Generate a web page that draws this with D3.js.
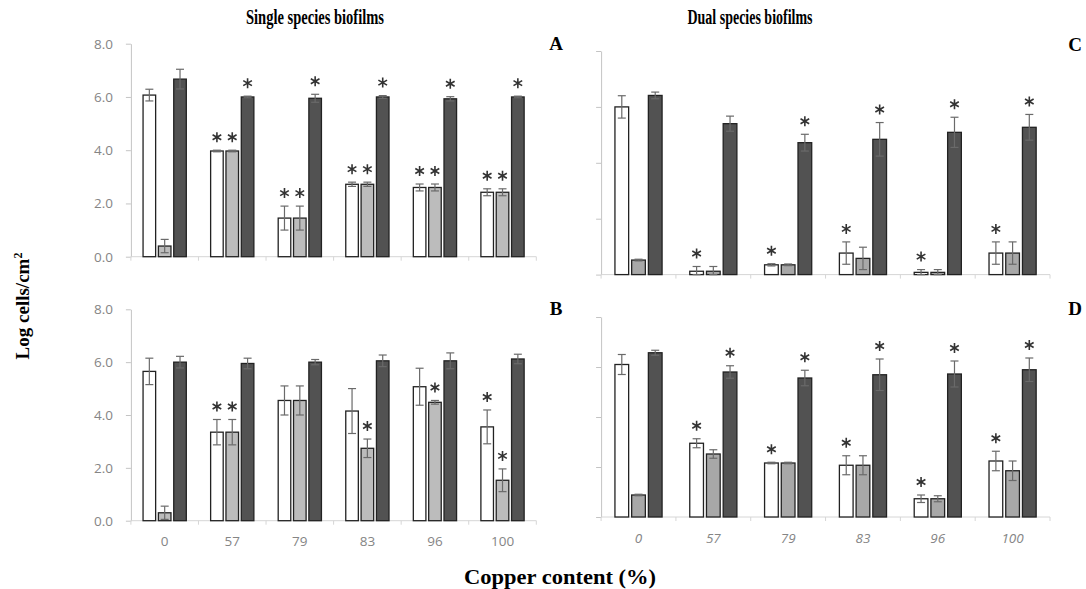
<!DOCTYPE html>
<html>
<head>
<meta charset="utf-8">
<script src="https://cdn.jsdelivr.net/npm/d3@7"></script>
<style>
  body { margin: 0; background: #fff; }
</style>
</head>
<body>
<div id="container"></div>
<script>
var categories = ["0", "57", "79", "83", "96", "100"]
var yTicks = [0, 2, 4, 6, 8]

// A - single species, top
var aWhite = [6.07, 3.97, 1.45, 2.72, 2.6, 2.42]
var aWhiteErr = [0.22, 0.03, 0.45, 0.08, 0.13, 0.13]
var aGrey = [0.4, 3.97, 1.45, 2.72, 2.6, 2.42]
var aGreyErr = [0.25, 0.03, 0.45, 0.08, 0.13, 0.13]
var aDark = [6.67, 6.0, 5.95, 6.0, 5.93, 6.0]
var aDarkErr = [0.37, 0.03, 0.15, 0.05, 0.08, 0.03]
var aWhiteSig = [0, 1, 1, 1, 1, 1]
var aGreySig = [0, 1, 1, 1, 1, 1]
var aDarkSig = [0, 1, 1, 1, 1, 1]

// B - single species, bottom
var bWhite = [5.65, 3.35, 4.55, 4.15, 5.07, 3.55]
var bWhiteErr = [0.5, 0.48, 0.55, 0.85, 0.7, 0.64]
var bGrey = [0.3, 3.35, 4.55, 2.74, 4.48, 1.53]
var bGreyErr = [0.25, 0.48, 0.55, 0.35, 0.07, 0.43]
var bDark = [6.0, 5.95, 6.0, 6.05, 6.05, 6.12]
var bDarkErr = [0.22, 0.2, 0.1, 0.22, 0.3, 0.18]
var bWhiteSig = [0, 1, 0, 0, 0, 1]
var bGreySig = [0, 1, 0, 1, 1, 1]
var bDarkSig = [0, 0, 0, 0, 0, 0]

// C - dual species, top
var cWhite = [6.0, 0.12, 0.35, 0.77, 0.08, 0.77]
var cWhiteErr = [0.4, 0.17, 0.04, 0.4, 0.1, 0.4]
var cGrey = [0.52, 0.12, 0.35, 0.58, 0.08, 0.77]
var cGreyErr = [0.03, 0.17, 0.03, 0.4, 0.1, 0.4]
var cDark = [6.41, 5.4, 4.72, 4.84, 5.09, 5.27]
var cDarkErr = [0.12, 0.27, 0.3, 0.6, 0.54, 0.46]
var cWhiteSig = [0, 1, 1, 1, 1, 1]
var cGreySig = [0, 0, 0, 0, 0, 0]
var cDarkSig = [0, 0, 1, 1, 1, 1]

// D - dual species, bottom
var dWhite = [6.1, 2.95, 2.16, 2.07, 0.73, 2.24]
var dWhiteErr = [0.4, 0.18, 0.03, 0.38, 0.15, 0.39]
var dGrey = [0.88, 2.52, 2.16, 2.07, 0.73, 1.85]
var dGreyErr = [0.03, 0.17, 0.03, 0.38, 0.12, 0.39]
var dDark = [6.57, 5.8, 5.56, 5.69, 5.72, 5.89]
var dDarkErr = [0.1, 0.25, 0.31, 0.63, 0.52, 0.47]
var dWhiteSig = [0, 1, 1, 1, 1, 1]
var dGreySig = [0, 0, 0, 0, 0, 0]
var dDarkSig = [0, 1, 1, 1, 1, 1]

var serifFont = "'Liberation Serif', 'DejaVu Serif', serif"
var tickFont = "'Open Sans', 'Liberation Sans', sans-serif"

// six armed asterisk used for significance marks
var asterisk = {
  draw: function(ctx, size) {
    var r = Math.sqrt(size) / 2
    for (var k = 0; k < 3; k++) {
      var a = Math.PI / 2 + k * Math.PI / 3
      ctx.moveTo(r * Math.cos(a), r * Math.sin(a))
      ctx.lineTo(-r * Math.cos(a), -r * Math.sin(a))
    }
  }
}

var svg = d3.select("#container").append("svg")
    .attr("width", 1086)
    .attr("height", 589)

function panel(o) {
  var x = d3.scaleBand().domain(categories)
      .range([o.left, o.right])
      .paddingInner(o.pad)
      .paddingOuter(o.pad / 2)
  var sub = d3.scaleBand().domain([0, 1, 2])
      .range([0, x.bandwidth()])
      .paddingInner(0.18)
  var y = d3.scaleLinear().domain([0, 8]).range([o.bottom, o.top])

  var g = svg.append("g")

  // y axis
  var ya = g.append("g")
      .attr("transform", "translate(" + o.left + ",0)")
      .call(d3.axisLeft(y).tickValues(yTicks).tickSize(5).tickSizeOuter(0)
        .tickPadding(13).tickFormat(o.yLabels ? d3.format(".1f") : ""))
  ya.select(".domain").attr("stroke", "#c4c4c4")
  ya.selectAll(".tick line").attr("stroke", "#c4c4c4")
  ya.selectAll(".tick text")
      .attr("fill", "#858585")
      .attr("font-family", tickFont)
      .attr("font-size", "13.5px")

  // x axis line + boundary ticks
  g.append("line")
      .attr("x1", o.left).attr("x2", o.right)
      .attr("y1", y(0)).attr("y2", y(0))
      .attr("stroke", "#d6d6d6")
  g.selectAll(".bound")
    .data(d3.range(categories.length + 1))
    .enter().append("line")
      .attr("x1", function(i) { return o.left + i * x.step() })
      .attr("x2", function(i) { return o.left + i * x.step() })
      .attr("y1", y(0)).attr("y2", y(0) + 4)
      .attr("stroke", "#d6d6d6")

  if (o.xLabels) {
    var xa = g.append("g")
        .attr("transform", "translate(0," + y(0) + ")")
        .call(d3.axisBottom(x).tickSize(0).tickPadding(16))
    xa.select(".domain").remove()
    xa.selectAll(".tick text")
        .attr("fill", "#858585")
        .attr("font-family", tickFont)
        .attr("font-size", "13.5px")
        .attr("font-style", o.italic ? "italic" : "normal")
  }

  o.series.forEach(function(s, i) {
    var rows = categories.map(function(c, j) {
      return {c: c, v: s.values[j], e: s.errors[j], sig: s.sig[j]}
    })
    var sg = g.append("g")

    sg.selectAll("rect").data(rows).enter().append("rect")
        .attr("x", function(d) { return x(d.c) + sub(i) })
        .attr("y", function(d) { return y(d.v) })
        .attr("width", sub.bandwidth())
        .attr("height", function(d) { return y(0) - y(d.v) })
        .attr("fill", s.fill)
        .attr("stroke", "#222")
        .attr("stroke-width", 1.3)

    var cx = function(d) { return x(d.c) + sub(i) + sub.bandwidth() / 2 }
    var lo = function(d) { return y(Math.max(d.v - d.e, 0)) }
    var hi = function(d) { return y(d.v + d.e) }

    var eg = sg.selectAll(".err").data(rows).enter().append("g")
        .attr("stroke", "#6a6a6a")
        .attr("stroke-width", 1.2)
    eg.append("line")
        .attr("x1", cx).attr("x2", cx)
        .attr("y1", lo).attr("y2", hi)
    eg.append("line")
        .attr("x1", function(d) { return cx(d) - 4 })
        .attr("x2", function(d) { return cx(d) + 4 })
        .attr("y1", hi).attr("y2", hi)
    eg.append("line")
        .attr("x1", function(d) { return cx(d) - 4 })
        .attr("x2", function(d) { return cx(d) + 4 })
        .attr("y1", lo).attr("y2", lo)

    sg.selectAll(".star").data(rows.filter(function(d) { return d.sig }))
      .enter().append("path")
        .attr("transform", function(d) { return "translate(" + cx(d) + "," + (hi(d) - 13) + ")" })
        .attr("d", d3.symbol().type(asterisk).size(100))
        .attr("fill", "none")
        .attr("stroke", "#333")
        .attr("stroke-width", 1.6)
  })

  g.append("text")
      .attr("x", o.letterX).attr("y", o.letterY)
      .attr("text-anchor", "middle")
      .attr("font-family", serifFont)
      .attr("font-weight", "bold")
      .attr("font-size", "19px")
      .text(o.letter)
}

var leftFills = ["#ffffff", "#bcbcbc", "#525252"]
var rightFills = ["#ffffff", "#a8a8a8", "#525252"]

function makeSeries(fills, w, we, ws, g, ge, gs, k, ke, ks) {
  return [
    {values: w, errors: we, sig: ws, fill: fills[0]},
    {values: g, errors: ge, sig: gs, fill: fills[1]},
    {values: k, errors: ke, sig: ks, fill: fills[2]}
  ]
}

panel({left: 130.9, right: 536.3, pad: 0.36, top: 43.7, bottom: 256.7,
  yLabels: true, xLabels: false, letter: "A", letterX: 556, letterY: 50,
  series: makeSeries(leftFills, aWhite, aWhiteErr, aWhiteSig, aGrey, aGreyErr, aGreySig, aDark, aDarkErr, aDarkSig)})

panel({left: 130.9, right: 536.3, pad: 0.36, top: 309.3, bottom: 520.7,
  yLabels: true, xLabels: true, italic: false, letter: "B", letterX: 556, letterY: 315,
  series: makeSeries(leftFills, bWhite, bWhiteErr, bWhiteSig, bGrey, bGreyErr, bGreySig, bDark, bDarkErr, bDarkSig)})

panel({left: 601.1, right: 1050, pad: 0.37, top: 51, bottom: 274.6,
  yLabels: false, xLabels: false, letter: "C", letterX: 1075, letterY: 51,
  series: makeSeries(rightFills, cWhite, cWhiteErr, cWhiteSig, cGrey, cGreyErr, cGreySig, cDark, cDarkErr, cDarkSig)})

panel({left: 601.1, right: 1050, pad: 0.37, top: 317, bottom: 517,
  yLabels: false, xLabels: true, italic: true, letter: "D", letterX: 1075, letterY: 315,
  series: makeSeries(rightFills, dWhite, dWhiteErr, dWhiteSig, dGrey, dGreyErr, dGreySig, dDark, dDarkErr, dDarkSig)})

// titles
function label(txt, x, y, len) {
  svg.append("text")
      .attr("x", x).attr("y", y)
      .attr("text-anchor", "middle")
      .attr("font-family", serifFont)
      .attr("font-weight", "bold")
      .attr("font-size", "20px")
      .attr("textLength", len)
      .attr("lengthAdjust", "spacingAndGlyphs")
      .text(txt)
}
label("Single species biofilms", 315, 24, 138)
label("Dual species biofilms", 750, 24, 125)
label("Copper content (%)", 560, 584, 192)

var yl = svg.append("text")
    .attr("transform", "translate(29,306) rotate(-90)")
    .attr("text-anchor", "middle")
    .attr("font-family", serifFont)
    .attr("font-weight", "bold")
    .attr("font-size", "19px")
yl.append("tspan").text("Log cells/cm")
yl.append("tspan").attr("baseline-shift", "super").attr("font-size", "12px").text("2")
</script>
</body>
</html>
